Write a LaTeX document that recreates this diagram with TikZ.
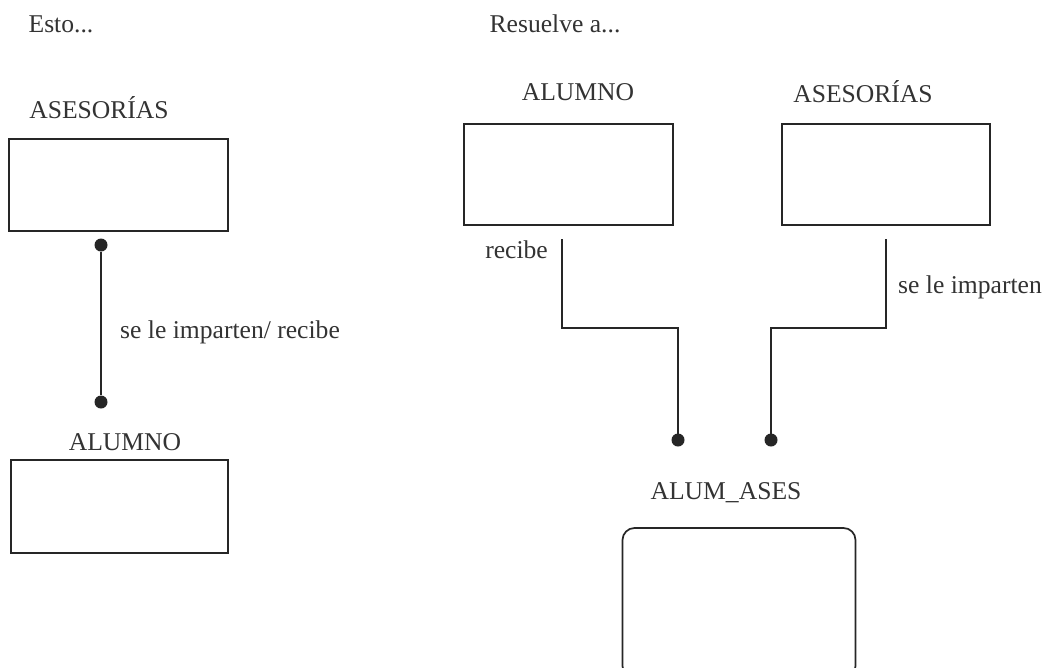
\documentclass[tikz,border=0pt]{standalone}
\usepackage{fontspec}
\setmainfont{Liberation Serif}
\begin{document}
\begin{tikzpicture}[x=1pt,y=-1pt,
  lbl/.style={inner sep=0pt,font=\fontsize{25.6}{30}\selectfont,text=black!80},
  entity/.style={draw=black!85,line width=1.7pt,inner sep=0pt},
  dot/.style={circle,fill=black!85,inner sep=0pt,minimum size=13pt},
  link/.style={draw=black!85,line width=1.7pt}]
\useasboundingbox[fill=white] (0,0) rectangle (1049,667);

% left: one relationship between two entities
\node[lbl] (esto) at (61,24) {Esto...};
\node[lbl] (tAsesL) at (99,108) {ASESORÍAS};
\node[entity,minimum width=219pt,minimum height=92pt] (asesL) at (118.5,185) {};
\node[dot] (dL1) at (101,245) {};
\node[dot] (dL2) at (101,402) {};
\draw[link] (dL1) -- (dL2);
\node[lbl,anchor=west] (rel) at (120,332) {se le imparten/ recibe};
\node[lbl] (tAlumL) at (125,442) {ALUMNO};
\node[entity,minimum width=217pt,minimum height=93pt] (alumL) at (119.5,506.5) {};

% right: the same link resolved through an associative entity
\node[lbl] (resuelve) at (555,24) {Resuelve a...};
\node[lbl] (tAlumR) at (578,92) {ALUMNO};
\node[entity,minimum width=209pt,minimum height=101pt] (alumR) at (568.5,174.5) {};
\node[lbl] (tAsesR) at (863,92) {ASESORÍAS};
\node[entity,minimum width=208pt,minimum height=101pt] (asesR) at (886,174.5) {};

\coordinate (cA) at (562,239);
\coordinate (cB) at (886,239);
\coordinate (hA) at (0,328);
\node[dot] (dR1) at (678,440) {};
\node[dot] (dR2) at (771,440) {};
\draw[link] (cA) -- (cA |- hA) -| (dR1.center);
\draw[link] (cB) -- (cB |- hA) -| (dR2.center);
\node[lbl,anchor=east] (recibe) at (548,250) {recibe};
\node[lbl,anchor=west] (imparten) at (898,287) {se le imparten};

\node[lbl] (tAlumAses) at (726,493) {ALUM\_ASES};
\node[entity,rounded corners=12pt,minimum width=233pt,minimum height=150pt] (alumAses) at (739,603) {};
\end{tikzpicture}
\end{document}
